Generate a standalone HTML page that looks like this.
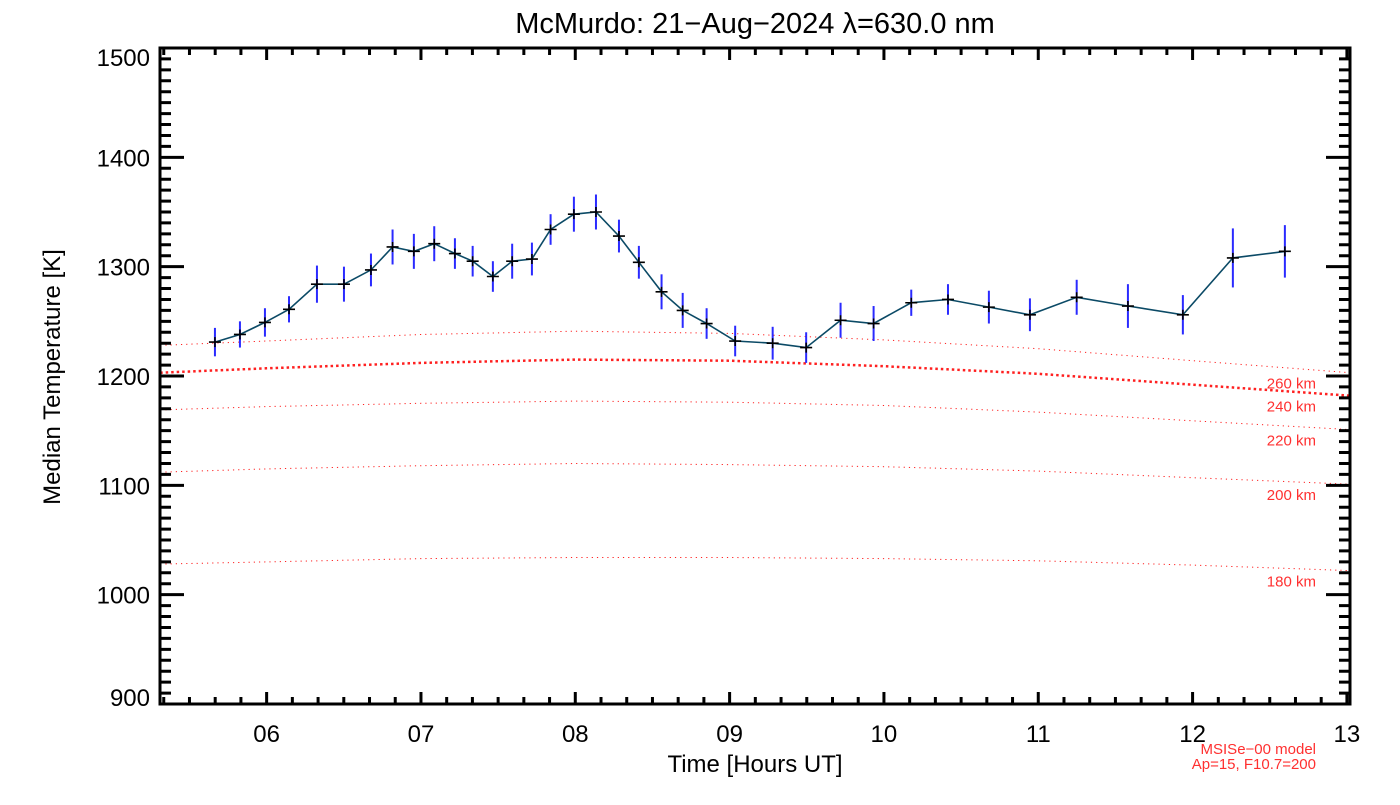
<!DOCTYPE html>
<html><head><meta charset="utf-8"><style>
body{margin:0;background:#fff}
svg text{font-family:"Liberation Sans",sans-serif}
</style></head><body>
<svg id="chart" width="1400" height="800" viewBox="0 0 1400 800" xmlns="http://www.w3.org/2000/svg">
<rect width="1400" height="800" fill="#fff"/>
<text x="755" y="33" font-size="29" text-anchor="middle">McMurdo: 21−Aug−2024 λ=630.0 nm</text>
<text x="755" y="772" font-size="24" text-anchor="middle">Time [Hours UT]</text>
<text transform="translate(60,377) rotate(-90)" font-size="24" text-anchor="middle">Median Temperature [K]</text>
<g id="model"></g>
<g id="series"></g>
<g id="axes"></g>
<text x="1316" y="754" font-size="15" fill="#ff3030" text-anchor="end">MSISe−00 model</text>
<text x="1316" y="769" font-size="15" fill="#ff3030" text-anchor="end">Ap=15, F10.7=200</text>
</svg>
<script>
const hours=[5.665,5.827,5.989,6.145,6.326,6.501,6.676,6.816,6.954,7.086,7.220,7.335,7.466,7.591,7.719,7.840,7.991,8.134,8.283,8.412,8.559,8.696,8.851,9.036,9.279,9.496,9.719,9.933,10.177,10.415,10.680,10.946,11.249,11.581,11.937,12.261,12.598];
const temps=[1231,1238,1249,1261,1284,1284,1297,1318,1314,1321,1312,1305,1291,1305,1307,1334,1348,1350,1328,1304,1277,1260,1248,1232,1230,1226,1251,1248,1267,1270,1263,1256,1272,1264,1256,1308,1314];
const errs=[13,12,13,12,17,16,15,16,16,16,14,14,14,16,15,14,16,16,15,15,16,16,14,14,15,14,16,16,12,14,15,15,16,20,18,27,24];
const modelHours=[5.31,6,7,8,9,10,11,12,13.02];
const model260=[1228,1232,1238,1241,1239,1233,1225,1214,1203];
const model240=[1203,1207,1212,1215,1214,1209,1202,1192,1182];
const model220=[1169,1172,1175,1177,1176,1173,1167,1159,1151];
const model200=[1112,1115,1118,1120,1119,1117,1113,1107,1101];
const model180=[1028,1030,1033,1034,1034,1033,1031,1027,1022];
const modelLabels=["260 km","240 km","220 km","200 km","180 km"];
const yTicks=[900,1000,1100,1200,1300,1400,1500];
const xTicks=[6,7,8,9,10,11,12,13];
const xTickLabels=["06","07","08","09","10","11","12","13"];

const L=160,R=1350,T=48,B=704,XMIN=5.309,XMAX=13.02,YMIN=900,YMAX=1500;
const sx=h=>L+(h-XMIN)/(XMAX-XMIN)*(R-L);
const sy=v=>B-(v-YMIN)/(YMAX-YMIN)*(B-T);
const NS="http://www.w3.org/2000/svg";
function mk(tag,attrs,parent){const e=document.createElementNS(NS,tag);for(const k in attrs)e.setAttribute(k,attrs[k]);parent.appendChild(e);return e;}

const mg=document.getElementById('model');
const models=[model260,model240,model220,model200,model180];
models.forEach((arr,i)=>{
  const pts=arr.map((v,j)=>sx(modelHours[j]).toFixed(1)+','+sy(v).toFixed(1)).join(' ');
  const thick=i===1;
  const p=mk('polyline',{points:pts,fill:'none',stroke:'#ff2020','stroke-width':thick?2.5:1,'stroke-dasharray':thick?'2.5 3':'1.2 4'},mg);
  
  
  const t=mk('text',{x:1316,y:(sy(arr[arr.length-1])+16).toFixed(1),'font-size':15,fill:'#ff3030','text-anchor':'end'},mg);
  t.textContent=modelLabels[i];
  
  
});

const sg=document.getElementById('series');
hours.forEach((h,i)=>{
  const e=mk('line',{x1:sx(h),x2:sx(h),y1:sy(temps[i]-errs[i]),y2:sy(temps[i]+errs[i]),stroke:'#2a2aff','stroke-width':2},sg);
  
  
});
const lp=mk('polyline',{points:hours.map((h,i)=>sx(h).toFixed(1)+','+sy(temps[i]).toFixed(1)).join(' '),fill:'none',stroke:'#0b4a66','stroke-width':1.6},sg);


hours.forEach((h,i)=>{
  const x=sx(h),y=sy(temps[i]);
  const c=mk('path',{d:`M${x-6},${y}H${x+6}M${x},${y-5}V${y+5}`,stroke:'#000','stroke-width':1.6,fill:'none'},sg);
  
  
});

const ag=document.getElementById('axes');
const fr=mk('rect',{x:L,y:T,width:R-L,height:B-T,fill:'none',stroke:'#000','stroke-width':3},ag);


let d='';
for(let v=YMIN;v<=YMAX;v+=10){const y=sy(v);const major=v%100===0;const len=major?24:11;d+=`M${L},${y}h${len}M${R},${y}h${-len}`;}
for(let k=0;k<=Math.floor((XMAX-XMIN)*6);k++){const h=Math.ceil(XMIN*6)/6+k/6;if(h>XMAX)break;const x=sx(h);const major=Math.abs(h-Math.round(h))<1e-6;const len=major?12:7;d+=`M${x},${B}v${-len}M${x},${T}v${len}`;}
const tk=mk('path',{d:d,stroke:'#000','stroke-width':3,fill:'none'},ag);


yTicks.forEach(v=>{
  let y=sy(v)+9;
  if(v===YMAX)y+=9;
  if(v===YMIN)y-=7;
  const t=mk('text',{x:150,y:y.toFixed(1),'font-size':24,'text-anchor':'end'},ag);
  t.textContent=v;
  
  
});
xTicks.forEach((h,i)=>{
  const t=mk('text',{x:sx(h).toFixed(1),y:742,'font-size':24,'text-anchor':'middle'},ag);
  t.textContent=xTickLabels[i];
  
  
});
</script>
</body></html>
